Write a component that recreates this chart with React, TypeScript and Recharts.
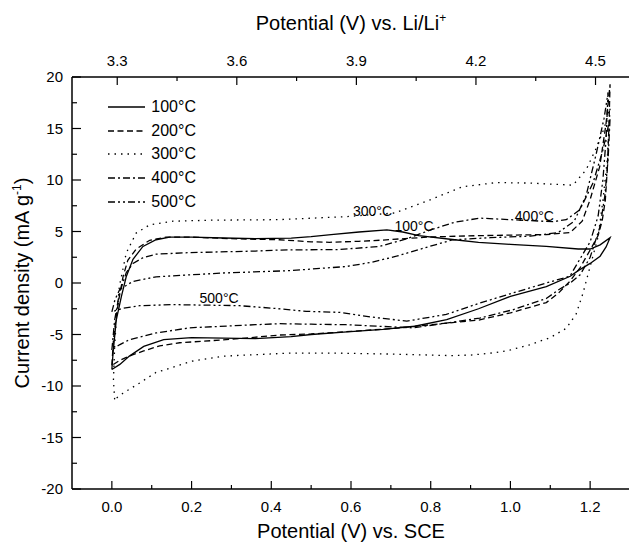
import { LineChart, Line, XAxis, YAxis, Legend, ReferenceDot } from "recharts";

const FONT = "'Liberation Sans', Arial, sans-serif";

// series names (annealing temperature)
const seriesNames = ["100°C", "200°C", "300°C", "400°C", "500°C"];

// potential (V vs SCE) and current density (mA/g), one closed loop each
const v100 = [0, 0.003, 0.011, 0.024, 0.036, 0.053, 0.078, 0.111, 0.145, 0.2, 0.28, 0.36, 0.45, 0.5, 0.55, 0.62, 0.69, 0.73, 0.77, 0.86, 0.92, 1.0, 1.09, 1.17, 1.2, 1.225, 1.25,
  1.24, 1.225, 1.2, 1.17, 1.15, 1.09, 1.0, 0.92, 0.84, 0.76, 0.68, 0.59, 0.5, 0.45, 0.36, 0.28, 0.2, 0.13, 0.08, 0.044, 0.02, 0];
const i100 = [-8.4, -6.8, -3.6, -1.3, 0.6, 2.3, 3.55, 4.2, 4.45, 4.45, 4.37, 4.3, 4.35, 4.5, 4.7, 4.95, 5.15, 4.95, 4.6, 4.2, 3.95, 3.75, 3.55, 3.3, 3.3, 3.7, 4.4,
  3.5, 2.6, 1.9, 1.2, 0.65, -0.35, -1.3, -2.5, -3.55, -4.2, -4.5, -4.75, -5.0, -5.2, -5.4, -5.35, -5.3, -5.5, -6.15, -7.1, -7.9, -8.4];

const v200 = [0, 0.004, 0.01, 0.018, 0.028, 0.04, 0.061, 0.095, 0.136, 0.2, 0.3, 0.42, 0.5, 0.546, 0.62, 0.672, 0.75, 0.8, 0.92, 1.0, 1.09, 1.15, 1.18, 1.2, 1.224, 1.24, 1.25,
  1.247, 1.243, 1.238, 1.23, 1.22, 1.2, 1.175, 1.15, 1.12, 1.09, 1.0, 0.92, 0.8, 0.71, 0.6, 0.5, 0.42, 0.35, 0.25, 0.17, 0.12, 0.08, 0.05, 0.02, 0];
const i200 = [-8.0, -5.5, -3.5, -1.5, 0.6, 2.2, 3.3, 4.15, 4.45, 4.45, 4.3, 4.2, 4.0, 3.95, 4.05, 4.15, 4.35, 4.47, 4.6, 4.65, 4.7, 4.9, 6.0, 8.1, 11.3, 15.5, 19.3,
  15.0, 11.0, 8.0, 6.0, 4.6, 3.2, 1.5, 0.2, -1.0, -1.9, -2.9, -3.6, -4.05, -4.4, -4.7, -4.95, -5.05, -5.3, -5.6, -5.8, -6.1, -6.6, -7.0, -7.5, -8.0];

const v300 = [0.007, 0.004, 0.007, 0.011, 0.019, 0.036, 0.061, 0.095, 0.153, 0.25, 0.42, 0.59, 0.71, 0.8, 0.88, 0.965, 1.05, 1.157, 1.19, 1.213, 1.235, 1.25,
  1.243, 1.232, 1.22, 1.2, 1.182, 1.165, 1.14, 1.1, 1.07, 1.048, 1.0, 0.965, 0.9, 0.85, 0.7, 0.55, 0.45, 0.28, 0.2, 0.11, 0.07, 0.028, 0.007];
const i300 = [-11.3, -9.4, -6.2, -3.6, -0.3, 2.9, 4.85, 5.65, 6.0, 6.1, 6.15, 6.45, 6.8, 8.1, 9.35, 9.75, 9.7, 9.5, 11.0, 12.9, 15.0, 17.0,
  12.0, 8.0, 4.5, 1.6, -1.0, -3.0, -4.4, -5.3, -5.7, -6.0, -6.5, -6.75, -7.0, -7.05, -6.9, -6.8, -6.8, -7.1, -7.6, -8.7, -9.7, -10.7, -11.3];

const v400 = [0, 0.007, 0.019, 0.036, 0.053, 0.078, 0.111, 0.195, 0.36, 0.42, 0.571, 0.672, 0.74, 0.8, 0.86, 0.923, 1.0, 1.107, 1.14, 1.174, 1.207, 1.232, 1.25,
  1.245, 1.237, 1.225, 1.2, 1.175, 1.15, 1.123, 1.09, 1.006, 0.923, 0.839, 0.755, 0.67, 0.588, 0.5, 0.42, 0.36, 0.195, 0.111, 0.044, 0.019, 0];
const i400 = [-6.5, -3.6, -1.0, 1.0, 1.9, 2.45, 2.8, 2.95, 3.1, 3.2, 3.25, 3.55, 4.3, 5.15, 5.9, 6.3, 6.15, 5.95, 6.15, 7.1, 9.7, 12.9, 16.0,
  12.0, 8.5, 5.5, 2.5, 0.8, 0.0, -0.6, -1.5, -2.6, -3.4, -3.9, -4.35, -4.2, -4.05, -4.0, -3.95, -4.05, -4.35, -4.85, -5.5, -6.0, -6.5];

const v500 = [0, 0.008, 0.02, 0.053, 0.111, 0.2, 0.279, 0.446, 0.588, 0.65, 0.714, 0.797, 0.856, 0.95, 1.05, 1.12, 1.16, 1.19, 1.215, 1.235, 1.245,
  1.24, 1.232, 1.22, 1.2, 1.174, 1.149, 1.09, 1.006, 0.923, 0.839, 0.74, 0.65, 0.571, 0.488, 0.404, 0.32, 0.153, 0.07, 0.028, 0];
const i500 = [-2.8, -1.6, -0.6, 0.15, 0.6, 0.8, 0.97, 1.2, 1.6, 2.0, 2.6, 3.55, 4.2, 4.4, 4.55, 4.9, 6.0, 8.5, 12.5, 16.0, 18.5,
  14.0, 10.0, 6.5, 4.0, 2.3, 0.65, 0.0, -0.97, -1.95, -3.05, -3.7, -3.3, -2.85, -2.75, -2.45, -2.2, -2.1, -2.2, -2.45, -2.8];

const potentials = [v100, v200, v300, v400, v500];
const currents = [i100, i200, i300, i400, i500];

// SCE -> Li/Li+ offset
const LI_OFFSET = 3.2865;

// in-plot labels
const noteText = ["300°C", "100°C", "400°C", "500°C"];
const noteV = [0.605, 0.709, 1.011, 0.22];
const noteI = [6.49, 5.03, 6.0, -1.91];

// ticks
const sceTicks = [0, 0.1, 0.2, 0.3, 0.4, 0.5, 0.6, 0.7, 0.8, 0.9, 1.0, 1.1, 1.2];
const liTicks = [3.3, 3.45, 3.6, 3.75, 3.9, 4.05, 4.2, 4.35, 4.5];
const currentTicks = [-20, -17.5, -15, -12.5, -10, -7.5, -5, -2.5, 0, 2.5, 5, 7.5, 10, 12.5, 15, 17.5, 20];

const dashes = ["", "6 3.5", "1.5 5", "7 3 2 3", "7 3 2 3 2 3"];

// first loop is plotted against the Li/Li+ axis (same potential, other reference)
const loops = potentials.map((vs, k) =>
  vs.map((v, j) => ({ x: k === 0 ? v + LI_OFFSET : v, y: currents[k][j] }))
);

const BottomTick = ({ x, y, payload }: any) => {
  const major = Math.round(payload.value * 10) % 2 === 0;
  return (
    <g>
      <line x1={x} x2={x} y1={y} y2={y - (major ? 8 : 4)} stroke="#000" strokeWidth={1.2} />
      {major && (
        <text x={x} y={y + 23} textAnchor="middle" fontSize={15} fontFamily={FONT} fill="#000">
          {payload.value.toFixed(1)}
        </text>
      )}
    </g>
  );
};

const TopTick = ({ x, y, payload }: any) => {
  const major = Math.round((payload.value - 3.3) / 0.15) % 2 === 0;
  return (
    <g>
      <line x1={x} x2={x} y1={y} y2={y + (major ? 8 : 4)} stroke="#000" strokeWidth={1.2} />
      {major && (
        <text x={x} y={y - 11} textAnchor="middle" fontSize={15} fontFamily={FONT} fill="#000">
          {payload.value.toFixed(1)}
        </text>
      )}
    </g>
  );
};

const LeftTick = ({ x, y, payload }: any) => {
  const major = payload.value % 5 === 0;
  return (
    <g>
      <line x1={x} x2={x + (major ? 9 : 5)} y1={y} y2={y} stroke="#000" strokeWidth={1.2} />
      {major && (
        <text x={x - 9} y={y + 5} textAnchor="end" fontSize={15} fontFamily={FONT} fill="#000">
          {payload.value}
        </text>
      )}
    </g>
  );
};

const BottomTitle = ({ viewBox }: any) => (
  <text x={viewBox.x + viewBox.width / 2} y={viewBox.y + 49} textAnchor="middle" fontSize={20} fontFamily={FONT} fill="#000">
    Potential  (V) vs. SCE
  </text>
);

const TopTitle = ({ viewBox }: any) => (
  <text x={viewBox.x + viewBox.width / 2} y={viewBox.y + 22} textAnchor="middle" fontSize={20} fontFamily={FONT} fill="#000">
    Potential (V) vs. Li/Li<tspan dy={-8} fontSize={12}>+</tspan>
  </text>
);

const LeftTitle = ({ viewBox }: any) => {
  const cx = 21;
  const cy = viewBox.y + viewBox.height / 2;
  return (
    <text x={cx} y={cy} transform={`rotate(-90, ${cx}, ${cy})`} textAnchor="middle" fontSize={20} fontFamily={FONT} fill="#000">
      Current density  (mA g<tspan dy={-8} fontSize={12}>-1</tspan><tspan dy={8}>)</tspan>
    </text>
  );
};

const LegendBox = () => (
  <div style={{ fontFamily: FONT, fontSize: 16, color: "#000" }}>
    {seriesNames.map((n, k) => (
      <div key={n} style={{ display: "flex", alignItems: "center", height: 23.7 }}>
        <svg width={37} height={6}>
          <line x1={0} x2={37} y1={3} y2={3} stroke="#000" strokeWidth={1.4} strokeDasharray={dashes[k]} />
        </svg>
        <span style={{ marginLeft: 6 }}>{n}</span>
      </div>
    ))}
  </div>
);

const noteLabel = (text: string) => (props: any) => (
  <text x={props.viewBox.x} y={props.viewBox.y} fontSize={14} fontFamily={FONT} fill="#000">
    {text}
  </text>
);

export default function App() {
  return (
    <div style={{ position: "fixed", left: 0, top: 0, width: 629, height: 543, overflow: "hidden", background: "#fff" }}>
      <div style={{ position: "absolute", left: 8, top: 8 }}>
        <LineChart width={622} height={535} margin={{ top: 0, right: 0, bottom: 0, left: 0 }}>
          <XAxis
            dataKey="x"
            type="number"
            domain={[-0.1, 1.3]}
            allowDataOverflow
            ticks={sceTicks}
            interval={0}
            height={54}
            tickSize={0}
            tickMargin={0}
            tick={<BottomTick />}
            axisLine={{ stroke: "#000", strokeWidth: 1.5 }}
            tickLine={false}
            label={<BottomTitle />}
          />
          <XAxis
            xAxisId="top"
            dataKey="x"
            orientation="top"
            type="number"
            domain={[-0.1 + LI_OFFSET, 1.3 + LI_OFFSET]}
            allowDataOverflow
            ticks={liTicks}
            interval={0}
            height={69}
            tickSize={0}
            tickMargin={0}
            tick={<TopTick />}
            axisLine={{ stroke: "#000", strokeWidth: 1.5 }}
            tickLine={false}
            label={<TopTitle />}
          />
          <YAxis
            type="number"
            domain={[-20, 20]}
            allowDataOverflow
            ticks={currentTicks}
            interval={0}
            width={64}
            tickSize={0}
            tickMargin={0}
            tick={<LeftTick />}
            axisLine={{ stroke: "#000", strokeWidth: 1.5 }}
            tickLine={false}
            label={<LeftTitle />}
          />
          <Legend
            layout="vertical"
            align="center"
            verticalAlign="middle"
            content={<LegendBox />}
            wrapperStyle={{ left: 100.3, top: 87, width: "auto" }}
          />
          {loops.map((pts, k) => (
            <Line
              key={seriesNames[k]}
              name={seriesNames[k]}
              xAxisId={k === 0 ? "top" : 0}
              data={pts}
              dataKey="y"
              type="linear"
              dot={false}
              activeDot={false}
              stroke="#000"
              strokeWidth={1.3}
              strokeDasharray={dashes[k]}
              isAnimationActive={false}
            />
          ))}
          {noteText.map((t, k) => (
            <ReferenceDot key={t} x={noteV[k]} y={noteI[k]} r={0} fill="none" stroke="none" label={noteLabel(t)} />
          ))}
        </LineChart>
      </div>
    </div>
  );
}
